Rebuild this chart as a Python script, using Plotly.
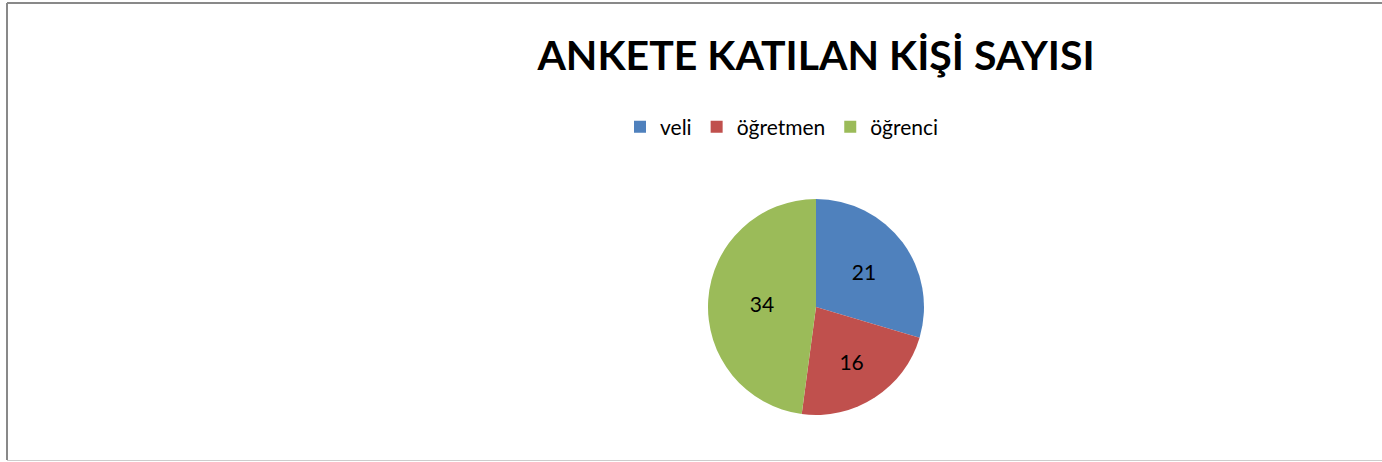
import plotly.graph_objects as go

categories = ["veli", "öğretmen", "öğrenci"]
values = [21, 16, 34]
colors = ["#4F81BD", "#C0504D", "#9BBB59"]
title_text = "ANKETE KATILAN KİŞİ SAYISI"

W, H = 1382, 462
FONT = "Lato, 'Open Sans', sans-serif"

def px(x):
    return x / W

def py(y):
    return 1 - y / H

D = 216
cx, cy = 816, 307

fig = go.Figure()
fig.add_trace(go.Pie(
    labels=categories,
    values=values,
    marker=dict(colors=colors, line=dict(width=0)),
    sort=False,
    direction="clockwise",
    rotation=0,
    textinfo="value",
    textposition="inside",
    insidetextorientation="horizontal",
    textfont=dict(family=FONT, size=21, color="#000000"),
    domain=dict(x=[px(cx - D / 2), px(cx + D / 2)], y=[py(cy + D / 2), py(cy - D / 2)]),
    showlegend=True,
    hoverinfo="label+value+percent",
))

fig.update_layout(
    width=W, height=H,
    margin=dict(l=0, r=0, t=0, b=0),
    paper_bgcolor="#FFFFFF",
    plot_bgcolor="#FFFFFF",
    title=dict(text="<b>" + title_text + "</b>", x=px(816), y=py(56),
               xanchor="center", yanchor="middle",
               font=dict(family=FONT, size=41, color="#000000")),
    legend=dict(orientation="h", x=px(782), y=py(127), xanchor="center", yanchor="middle",
                font=dict(family=FONT, size=21, color="#000000"),
                itemwidth=30, traceorder="normal"),
    shapes=[
        dict(type="line", xref="paper", yref="paper", x0=px(7), x1=px(W + 5), y0=py(3), y1=py(3),
             line=dict(color="#898989", width=2)),
        dict(type="line", xref="paper", yref="paper", x0=px(7), x1=px(7), y0=py(3), y1=py(460),
             line=dict(color="#898989", width=2)),
        dict(type="line", xref="paper", yref="paper", x0=px(7), x1=px(W + 5), y0=py(460.5), y1=py(460.5),
             line=dict(color="#CDCDCD", width=1)),
    ],
)

fig.write_html("out.html",
               config={"displayModeBar": False},
               post_script="document.body.style.margin='0';document.body.style.overflow='hidden';")
